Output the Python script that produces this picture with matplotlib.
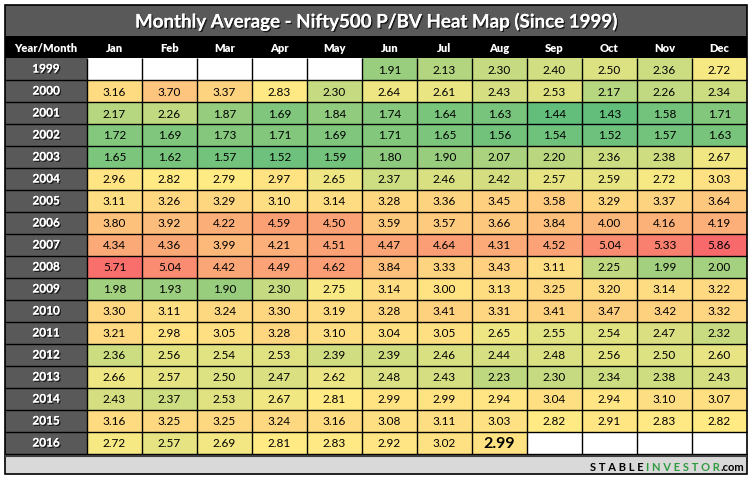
import numpy as np
import matplotlib
matplotlib.use("Agg")
import matplotlib.pyplot as plt
from matplotlib.colors import LinearSegmentedColormap, TwoSlopeNorm
from matplotlib import patheffects as pe

plt.rcParams['font.family'] = ['Lato', 'DejaVu Sans']

title = "Monthly Average - Nifty500 P/BV Heat Map (Since 1999)"
months = ["Jan", "Feb", "Mar", "Apr", "May", "Jun",
          "Jul", "Aug", "Sep", "Oct", "Nov", "Dec"]
years = list(range(1999, 2017))
nan = np.nan

pbv_1999 = [nan, nan, nan, nan, nan, 1.91, 2.13, 2.30, 2.40, 2.50, 2.36, 2.72]
pbv_2000 = [3.16, 3.70, 3.37, 2.83, 2.30, 2.64, 2.61, 2.43, 2.53, 2.17, 2.26, 2.34]
pbv_2001 = [2.17, 2.26, 1.87, 1.69, 1.84, 1.74, 1.64, 1.63, 1.44, 1.43, 1.58, 1.71]
pbv_2002 = [1.72, 1.69, 1.73, 1.71, 1.69, 1.71, 1.65, 1.56, 1.54, 1.52, 1.57, 1.63]
pbv_2003 = [1.65, 1.62, 1.57, 1.52, 1.59, 1.80, 1.90, 2.07, 2.20, 2.36, 2.38, 2.67]
pbv_2004 = [2.96, 2.82, 2.79, 2.97, 2.65, 2.37, 2.46, 2.42, 2.57, 2.59, 2.72, 3.03]
pbv_2005 = [3.11, 3.26, 3.29, 3.10, 3.14, 3.28, 3.36, 3.45, 3.58, 3.29, 3.37, 3.64]
pbv_2006 = [3.80, 3.92, 4.22, 4.59, 4.50, 3.59, 3.57, 3.66, 3.84, 4.00, 4.16, 4.19]
pbv_2007 = [4.34, 4.36, 3.99, 4.21, 4.51, 4.47, 4.64, 4.31, 4.52, 5.04, 5.33, 5.86]
pbv_2008 = [5.71, 5.04, 4.42, 4.49, 4.62, 3.84, 3.33, 3.43, 3.11, 2.25, 1.99, 2.00]
pbv_2009 = [1.98, 1.93, 1.90, 2.30, 2.75, 3.14, 3.00, 3.13, 3.25, 3.20, 3.14, 3.22]
pbv_2010 = [3.30, 3.11, 3.24, 3.30, 3.19, 3.28, 3.41, 3.31, 3.41, 3.47, 3.42, 3.32]
pbv_2011 = [3.21, 2.98, 3.05, 3.28, 3.10, 3.04, 3.05, 2.65, 2.55, 2.54, 2.47, 2.32]
pbv_2012 = [2.36, 2.56, 2.54, 2.53, 2.39, 2.39, 2.46, 2.44, 2.48, 2.56, 2.50, 2.60]
pbv_2013 = [2.66, 2.57, 2.50, 2.47, 2.62, 2.48, 2.43, 2.23, 2.30, 2.34, 2.38, 2.43]
pbv_2014 = [2.43, 2.37, 2.53, 2.67, 2.81, 2.99, 2.99, 2.94, 3.04, 2.94, 3.10, 3.07]
pbv_2015 = [3.16, 3.25, 3.25, 3.24, 3.16, 3.08, 3.11, 3.03, 2.82, 2.91, 2.83, 2.82]
pbv_2016 = [2.72, 2.57, 2.69, 2.81, 2.83, 2.92, 3.02, 2.99, nan, nan, nan, nan]

data = np.array([pbv_1999, pbv_2000, pbv_2001, pbv_2002, pbv_2003, pbv_2004,
                 pbv_2005, pbv_2006, pbv_2007, pbv_2008, pbv_2009, pbv_2010,
                 pbv_2011, pbv_2012, pbv_2013, pbv_2014, pbv_2015, pbv_2016])
latest = (17, 7)  # current month, shown in bold

# layout in pixels
W, H = 754, 481
left, right = 5, 747
top, title_bot, head_bot = 6, 37, 59
col0_right, col_w, row_h = 87, 55, 22
grid_bot = head_bot + row_h * len(years)
foot_top, foot_bot = grid_bot + 3, 475

fig = plt.figure(figsize=(W / 100, H / 100), dpi=100)
ax = fig.add_axes([0, 0, 1, 1])
ax.set_xlim(0, W)
ax.set_ylim(H, 0)
ax.axis("off")

shadow = [pe.withSimplePatchShadow(offset=(1, -1), shadow_rgbFace="black", alpha=0.7), pe.Normal()]

# title bar, header, year column
ax.add_patch(plt.Rectangle((left, top), right - left, title_bot - top, color="#595959", lw=0))
ax.add_patch(plt.Rectangle((left, title_bot), right - left, head_bot - title_bot, color="black", lw=0))
ax.add_patch(plt.Rectangle((left, head_bot), col0_right - left, grid_bot - head_bot, color="#595959", lw=0))
ax.add_patch(plt.Rectangle((left, foot_top), right - left, foot_bot - foot_top, color="#D9D9D9", lw=0))

ax.text((left + right) / 2, (top + title_bot) / 2 + 1, title, ha="center", va="center",
        color="white", fontsize=13.5, fontweight="bold", path_effects=shadow)

# heat map cells (green - yellow - red scale)
cmap = LinearSegmentedColormap.from_list("gyr", ["#63BE7B", "#FFEB84", "#F8696B"])
norm = TwoSlopeNorm(vmin=np.nanmin(data), vcenter=2.8, vmax=np.nanmax(data))
xe = col0_right + col_w * np.arange(len(months) + 1)
ye = head_bot + row_h * np.arange(len(years) + 1)
ax.pcolormesh(xe, ye, np.ma.masked_invalid(data), cmap=cmap, norm=norm, shading="flat")

# grid lines
ax.hlines(ye[1:-1], left, right, color="black", lw=1)
ax.vlines(xe[:-1], head_bot, grid_bot, color="black", lw=1)

# header texts
ax.text((left + col0_right) / 2, (title_bot + head_bot) / 2, "Year/Month", ha="center", va="center",
        color="white", fontsize=8, fontweight="heavy")
for j, m in enumerate(months):
    ax.text((xe[j] + xe[j + 1]) / 2, (title_bot + head_bot) / 2, m, ha="center", va="center",
            color="white", fontsize=8, fontweight="heavy")

for i, y in enumerate(years):
    yc = (ye[i] + ye[i + 1]) / 2
    ax.text((left + col0_right) / 2, yc, str(y), ha="center", va="center",
            color="white", fontsize=8.5, fontweight="bold", path_effects=shadow)
    for j in range(len(months)):
        v = data[i, j]
        if np.isnan(v):
            continue
        xc = (xe[j] + xe[j + 1]) / 2
        if (i, j) == latest:
            ax.text(xc, yc, f"{v:.2f}", ha="center", va="center", fontsize=11.5,
                    fontweight="bold", color="black")
        else:
            ax.text(xc, yc, f"{v:.2f}", ha="center", va="center", fontsize=8.5, color="black")

# bottom double line and outer border
ax.hlines(grid_bot, left, right, color="black", lw=1)
ax.hlines(grid_bot + 2, left, right, color="#404040", lw=1.5)
ax.add_patch(plt.Rectangle((left, top), right - left, foot_bot - top, fill=False, ec="black", lw=1.2))

# footer brand, built right to left
fy = (foot_top + foot_bot) / 2 + 1
t3 = ax.text(right - 3, fy, ".com", ha="right", va="center", fontsize=8, fontweight="bold", color="black")
t2 = ax.annotate("I N V E S T O R", xy=(0, 0.5), xycoords=t3, ha="right", va="center",
                 fontsize=8, fontweight="bold", color="#2E9B3E")
t1 = ax.annotate("S T A B L E ", xy=(0, 0.5), xycoords=t2, ha="right", va="center",
                 fontsize=8, fontweight="bold", color="black")

fig.savefig("out.png", dpi=100)
